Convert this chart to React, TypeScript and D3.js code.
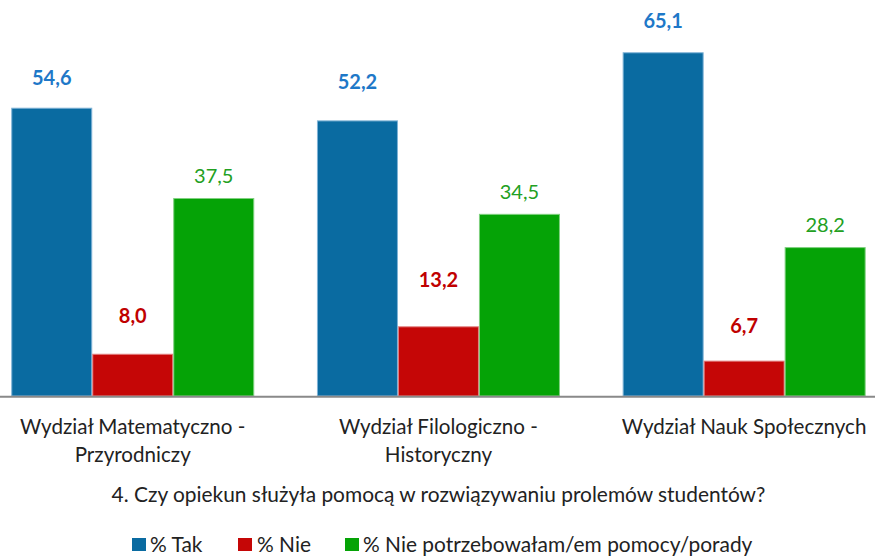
import React from "react";
import * as d3 from "d3";

const categories: string[][] = [
  ["Wydział Matematyczno -", "Przyrodniczy"],
  ["Wydział Filologiczno -", "Historyczny"],
  ["Wydział Nauk Społecznych"],
];
const seriesNames = ["% Tak", "% Nie", "% Nie potrzebowałam/em pomocy/porady"];
const tak = [54.6, 52.2, 65.1];
const nie = [8.0, 13.2, 6.7];
const niePotrzeb = [37.5, 34.5, 28.2];
const title = "4. Czy opiekun służyła pomocą w rozwiązywaniu prolemów studentów?";

const W = 875;
const H = 556;
const FONT = "Lato, 'Open Sans', sans-serif";

const barColors = ["#0A6BA1", "#C50606", "#05A306"];
const edgeColors = ["#7FB3D6", "#E28080", "#7FD07F"];
const labelColors = ["#1E78C8", "#C00000", "#22A022"];
const labelWeights = [700, 700, 400];
// label lift above bar top (px), per series per category
const labelLift = [
  [30, 38, 31],
  [38, 46, 35],
  [22, 22, 22],
];

export default function App() {
  const series = [tak, nie, niePotrzeb];
  const catIdx = categories.map((_, i) => i);
  const x0 = d3.scaleBand<number>().domain(catIdx).range([-20.1, 897]).paddingInner(0).paddingOuter(0);
  const x1 = d3
    .scaleBand<number>()
    .domain([0, 1, 2])
    .range([0, x0.bandwidth()])
    .paddingInner(0)
    .paddingOuter(0.387);
  const y = d3.scaleLinear().domain([0, 75]).range([396, 0]);
  const fmt = (v: number) => d3.format(".1f")(v).replace(".", ",");

  const legendItems = [
    { sx: 132, tx: 150 },
    { sx: 238, tx: 257 },
    { sx: 345, tx: 363 },
  ];

  return (
    <svg
      width={W}
      height={H}
      style={{ position: "absolute", left: 0, top: 0, display: "block", background: "#fff" }}
      fontFamily={FONT}
    >
      {series.map((vals, s) =>
        vals.map((v, c) => {
          const bx = (x0(c) as number) + (x1(s) as number);
          const bw = x1.bandwidth();
          return (
            <g key={`b${s}-${c}`}>
              <rect
                x={bx + 0.5}
                y={y(v) + 0.5}
                width={bw - 1}
                height={y(0) - y(v) - 0.5}
                fill={barColors[s]}
                stroke={edgeColors[s]}
                strokeWidth={1}
              />
              <text
                x={bx + bw / 2}
                y={y(v) - labelLift[s][c]}
                dy="0.35em"
                textAnchor="middle"
                fontSize={20}
                fontWeight={labelWeights[s]}
                fill={labelColors[s]}
              >
                {fmt(v)}
              </text>
            </g>
          );
        })
      )}
      <line x1={0} x2={W} y1={396.7} y2={396.7} stroke="#898989" strokeWidth={2} />
      {categories.map((lines, c) => (
        <text
          key={`c${c}`}
          x={(x0(c) as number) + x0.bandwidth() / 2}
          y={434}
          textAnchor="middle"
          fontSize={20.6}
          fill="#222"
        >
          {lines.map((ln, i) => (
            <tspan key={i} x={(x0(c) as number) + x0.bandwidth() / 2} dy={i === 0 ? 0 : 28}>
              {ln}
            </tspan>
          ))}
        </text>
      ))}
      <text x={438.5} y={502} textAnchor="middle" fontSize={20.9} fill="#222">
        {title}
      </text>
      {seriesNames.map((n, s) => (
        <g key={`l${s}`}>
          <rect x={legendItems[s].sx} y={538} width={14} height={13} fill={barColors[s]} />
          <text x={legendItems[s].tx} y={552} fontSize={20.9} fill="#222">
            {n}
          </text>
        </g>
      ))}
    </svg>
  );
}
